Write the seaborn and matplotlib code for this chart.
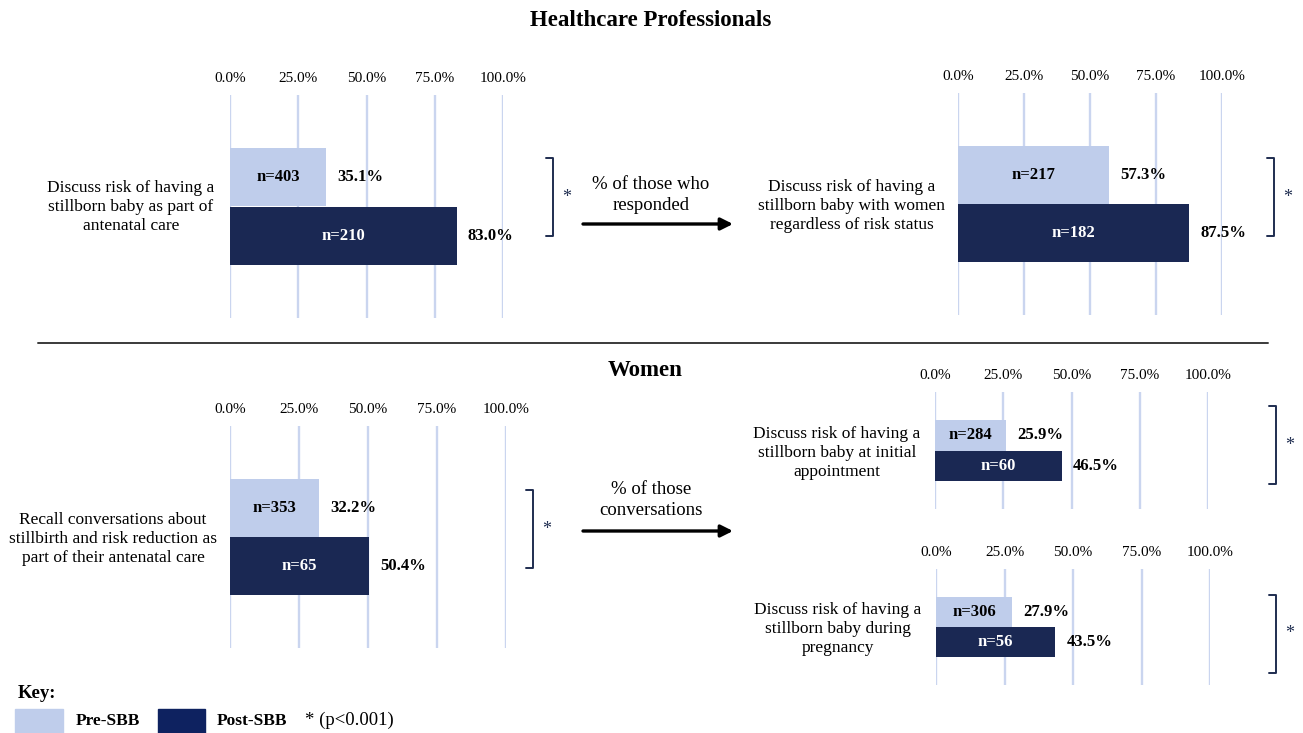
import matplotlib
matplotlib.use("Agg")
import matplotlib.pyplot as plt
from matplotlib.patches import Rectangle
import seaborn as sns

# ── Data ─────────────────────────────────────────────────────────────────────
groups = ["Pre-SBB", "Post-SBB"]
questions = [
    "Discuss risk of having a\nstillborn baby as part of\nantenatal care",
    "Discuss risk of having a\nstillborn baby with women\nregardless of risk status",
    "Recall conversations about\nstillbirth and risk reduction as\npart of their antenatal care",
    "Discuss risk of having a\nstillborn baby at initial\nappointment",
    "Discuss risk of having a\nstillborn baby during\npregnancy",
]
pre_pct = [35.1, 57.3, 32.2, 25.9, 27.9]
post_pct = [83.0, 87.5, 50.4, 46.5, 43.5]
pre_n = [403, 217, 353, 284, 306]
post_n = [210, 182, 65, 60, 56]
tick_vals = [0, 25, 50, 75, 100]
tick_labels = ["0.0%", "25.0%", "50.0%", "75.0%", "100.0%"]
arrow_texts = ["% of those who\nresponded", "% of those\nconversations"]

# ── Style ────────────────────────────────────────────────────────────────────
W, H = 1303, 733
LIGHT = "#bfcdeb"
DARK = "#1a2853"
KEY_DARK = "#0e2260"
GRID = "#cad5ef"
NAVY = "#1f2d50"

sns.set_theme(style="white")
plt.rcParams["font.family"] = ["Liberation Serif", "DejaVu Serif"]
plt.rcParams["text.color"] = "black"
plt.rcParams["xtick.color"] = "black"
plt.rcParams["xtick.labelcolor"] = "black"

fig = plt.figure(figsize=(W / 100, H / 100), dpi=100)

# panel boxes in pixels: (left, top, right, bottom)
boxes = [
    (230, 95, 503, 318),
    (958, 93, 1222, 315),
    (230, 426, 506, 648),
    (935, 392, 1208, 509),
    (936, 569, 1210, 685),
]
label_pos = [(131, 207), (852, 206), (113, 539), (837, 453), (838, 629)]
brackets = [(553, 158, 236), (1274, 158, 236), (533, 490, 568),
            (1276, 406, 484), (1276, 595, 673)]


def add_panel(i):
    x0, y0, x1, y1 = boxes[i]
    ax = fig.add_axes([x0 / W, 1 - y1 / H, (x1 - x0) / W, (y1 - y0) / H])
    vals = [pre_pct[i], post_pct[i]]
    ns = [pre_n[i], post_n[i]]
    sns.barplot(x=vals, y=groups, hue=groups, palette=[LIGHT, DARK],
                orient="h", width=1.0, linewidth=0, saturation=1,
                legend=False, ax=ax)
    ax.set_xlim(0, 100)
    ax.set_ylim(2.42, -1.42)
    ax.xaxis.tick_top()
    ax.set_xticks(tick_vals)
    ax.set_xticklabels(tick_labels, fontsize=11)
    ax.tick_params(axis="x", length=0, pad=7)
    ax.set_yticks([])
    ax.set_xlabel("")
    ax.set_ylabel("")
    ax.grid(axis="x", color=GRID, lw=1.7)
    ax.set_axisbelow(True)
    for s in ax.spines.values():
        s.set_visible(False)
    for j, (v, n) in enumerate(zip(vals, ns)):
        ax.text(v / 2, j, f"n={n}", ha="center", va="center",
                fontsize=12, fontweight="bold",
                color="black" if j == 0 else "white")
        ax.annotate(f"{v:.1f}%", xy=(v, j), xytext=(8, 0),
                    textcoords="offset points", ha="left", va="center",
                    fontsize=12, fontweight="bold")
    return ax


for i in range(len(pre_pct)):
    add_panel(i)

# ── Overlay in pixel coordinates ─────────────────────────────────────────────
ov = fig.add_axes([0, 0, 1, 1])
ov.set_xlim(0, W)
ov.set_ylim(H, 0)
ov.axis("off")
ov.patch.set_alpha(0)

ov.text(651, 20, "Healthcare Professionals", ha="center", va="center",
        fontsize=16.5, fontweight="bold")
ov.text(645, 371, "Women", ha="center", va="center",
        fontsize=16.5, fontweight="bold")
ov.plot([38, 1268], [343, 343], color="#3a3a3a", lw=1.4)

for (x, y), q in zip(label_pos, questions):
    ov.text(x, y, q, ha="center", va="center", fontsize=12.5,
            linespacing=1.28, multialignment="center")

for x, yt, yb in brackets:
    ov.plot([x - 7, x, x, x - 7], [yt, yt, yb, yb], color=NAVY, lw=1.4)
    ov.text(x + 14, (yt + yb) / 2, "*", ha="center", va="center",
            fontsize=13, color=NAVY)

for y_arrow, y_text, txt in [(224, 195, arrow_texts[0]), (531, 500, arrow_texts[1])]:
    ov.annotate("", xy=(733, y_arrow), xytext=(583, y_arrow),
                arrowprops=dict(arrowstyle="-|>", lw=2.4, color="black",
                                mutation_scale=18, shrinkA=0, shrinkB=0))
    ov.text(651, y_text, txt, ha="center", va="center", fontsize=13.5,
            linespacing=1.35)

# ── Key ──────────────────────────────────────────────────────────────────────
ov.text(18, 693, "Key:", ha="left", va="center", fontsize=13.5, fontweight="bold")
ov.add_patch(Rectangle((15, 709), 48, 24, color=LIGHT))
ov.add_patch(Rectangle((158, 709), 47, 24, color=KEY_DARK))
ov.text(76, 721, groups[0], ha="left", va="center", fontsize=12.5, fontweight="bold")
ov.text(217, 721, groups[1], ha="left", va="center", fontsize=12.5, fontweight="bold")
ov.text(305, 720, "* (p<0.001)", ha="left", va="center", fontsize=13.5)

fig.savefig("out.png", dpi=100)
plt.close(fig)
